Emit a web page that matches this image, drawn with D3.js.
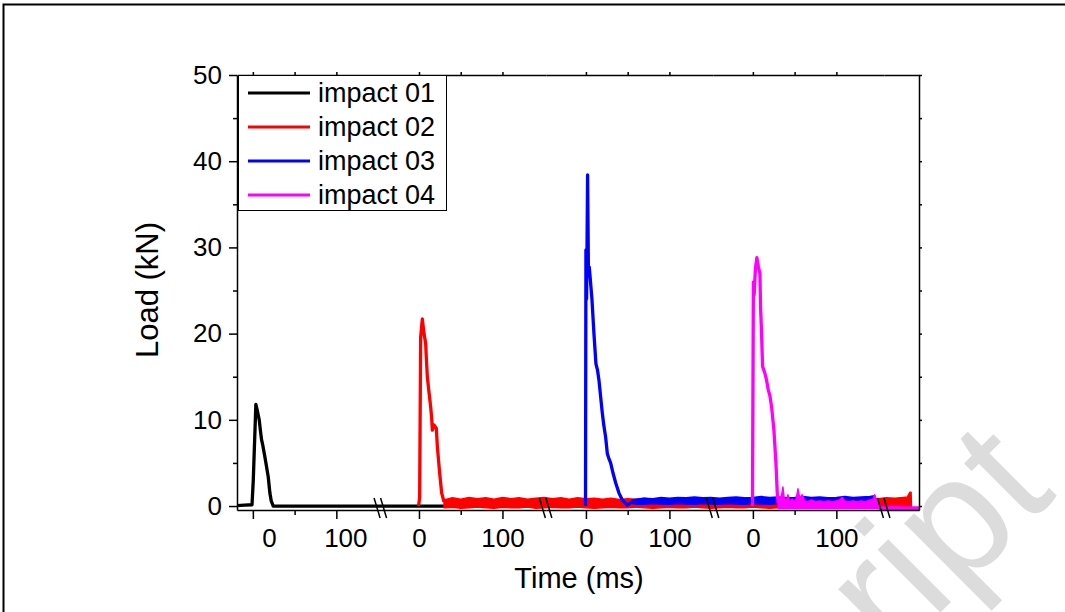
<!DOCTYPE html>
<html lang="en">
<head>
<meta charset="UTF-8">
<title>Impact load vs time</title>
<script src="https://d3js.org/d3.v7.min.js"></script>
<style>
    body { margin: 0; background: white; }
    svg text { font-family: 'Liberation Sans', Arial, sans-serif; fill: black; }
</style>
</head>
<body>
<div id="chart"></div>
<script>
// load axis (kN)
var loadTicks = [0, 10, 20, 30, 40, 50];
var loadMinorTicks = [5, 15, 25, 35, 45];

// broken time axis: one window per impact (ms, local to each impact), last piece is the tail
var segStart = [-19, -46, -48, -48, 157];
var segEnd   = [153, 152, 152, 157, 199];
var timeTicks = [0, 100];
var timeMinorTicks = [50];

var names  = ["impact 01", "impact 02", "impact 03", "impact 04"];
var colors = ["#000000", "#ff0000", "#0000ff", "#ff00ff"];

// impact 01 - pulse
var t01    = [-19, -10, -1, 0.5, 3.6, 5.5, 7.6, 9, 10.4, 12, 14.4, 16.5, 18.4, 20.4, 22, 24.4, 240];
var load01 = [0.05, 0.1, 0.15, 3, 11.8, 11, 10, 8.8, 7.7, 7, 5.7, 4.5, 3.4, 1.5, 0.6, 0, 0];

// impact 02 - pulse and noisy tail (low / high envelope)
var t02    = [-0.5, 0.8, 2, 4, 6, 8, 8.8, 10, 12, 14, 15.2, 16, 18, 20.8, 22, 24.8, 27.2, 30];
var load02 = [0, 1, 19.6, 21.7, 20, 18.9, 17.2, 15, 13.2, 11.5, 10.2, 8.8, 9.4, 9, 6.9, 3.8, 1.5, 0.5];
var tailT02  = [30, 40, 50, 60, 70, 80, 90, 100, 110, 120, 130, 140, 150, 160, 170, 180, 190, 200,
                210, 220, 230, 240, 250, 260, 270, 280, 290, 300, 310, 320, 330, 340, 350, 360, 370,
                380, 390, 400, 410, 420, 430, 440, 450, 460, 470, 480, 490, 500, 510, 520, 530, 540,
                550, 560, 570, 580, 585, 588, 589.5, 590];
var tailHi02 = [0.7, 0.95, 0.8, 1.0, 0.85, 0.95, 0.8, 1.0, 0.85, 0.95, 0.8, 0.9, 1.0, 0.85, 0.95, 0.8, 0.95, 0.85,
                0.9, 0.8, 0.9, 0.75, 0.85, 0.8, 0.9, 0.75, 0.85, 0.8, 0.85, 0.75, 0.8, 0.75, 0.7, 0.8, 0.75,
                0.7, 0.8, 0.75, 0.8, 0.7, 0.75, 0.8, 0.7, 0.75, 0.85, 0.8, 0.75, 0.8, 0.85, 0.8, 0.85, 0.9,
                0.85, 0.95, 0.9, 1.0, 1.05, 1.6, 1.6, 0];
var tailLo02 = [-0.2, -0.15, -0.25, -0.2, -0.1, -0.2, -0.25, -0.15, -0.2, -0.2, -0.1, -0.25, -0.2, -0.15, -0.2, -0.2, -0.1, -0.2,
                -0.25, -0.2, -0.15, -0.2, -0.2, -0.1, -0.2, -0.25, -0.2, -0.15, -0.2, -0.2, -0.1, -0.2, -0.25, -0.2, -0.15,
                -0.2, -0.2, -0.1, -0.2, -0.25, -0.2, -0.15, -0.2, -0.2, -0.1, -0.2, -0.25, -0.2, -0.15, -0.2, -0.2, -0.1,
                -0.2, -0.2, -0.15, -0.2, -0.2, -0.2, -0.2, -0.2];

// impact 03
var t03    = [-0.5, 0, 0.8, 2, 3, 4, 5.5, 7.2, 9.6, 12, 13.8, 15.6, 17.6, 19.6, 21.5, 23.6, 25.6, 27.5,
              29.6, 32.5, 35.6, 39.6, 43.6, 49.6, 55];
var load03 = [0, 29.7, 24, 38.4, 27, 27.7, 26, 24, 20, 16.5, 15.8, 14.6, 12.7, 10.8, 9.3, 8, 6.1, 5.5,
              5, 3.8, 2.7, 1.5, 0.7, 0.1, 0.5];
var tailT03  = [55, 60, 70, 80, 90, 100, 110, 120, 130, 140, 150, 160, 170, 180, 190, 200, 210, 220,
                230, 240, 250, 260, 270, 280, 290, 300, 310, 320, 330, 340, 346, 348];
var tailHi03 = [0.7, 0.8, 0.9, 0.85, 1.0, 0.9, 1.0, 0.95, 1.05, 0.95, 1.0, 0.9, 1.0, 1.05, 0.95, 1.0, 1.1, 1.0,
                1.05, 0.95, 1.0, 1.1, 1.0, 1.05, 0.95, 1.0, 1.1, 1.0, 1.05, 1.1, 1.2, 0.2];
var tailLo03 = [0.3, 0.25, 0.2, 0.3, 0.25, 0.2, 0.3, 0.25, 0.2, 0.3, 0.25, 0.2, 0.3, 0.25, 0.2, 0.3, 0.25, 0.2,
                0.3, 0.25, 0.2, 0.3, 0.25, 0.2, 0.3, 0.25, 0.2, 0.3, 0.25, 0.2, 0.2, 0];

// impact 04
var t04    = [-0.5, 0.6, 1.5, 3, 4.8, 6.5, 8.4, 9.2, 10.4, 11.6, 14.4, 16.4, 18.4, 20.4, 22.4, 25.2, 27.6, 29.2, 30.4];
var load04 = [0, 26, 24.5, 27.5, 28.8, 27.8, 27, 23.1, 20, 16.2, 15.4, 14.6, 13.5, 12.8, 11.5, 8.8, 5, 1.5, 0.3];
var tailT04  = [30.4, 33, 35, 36, 37.5, 40, 42, 44, 47, 50, 52, 54, 56, 59, 62, 66, 70, 75, 80, 85, 90,
                95, 100, 104, 107, 110, 115, 120, 125, 130, 135, 140, 144, 146, 148, 151, 153, 160, 170, 180, 190, 199];
var tailHi04 = [0.3, 0.9, 1.6, 2.2, 0.9, 0.6, 1.3, 0.5, 0.8, 0.5, 0.9, 2.0, 1.0, 1.3, 0.6, 0.5, 0.7, 0.5, 0.6, 0.5, 0.6,
                0.5, 0.6, 0.7, 1.0, 0.6, 0.5, 0.6, 0.5, 0.6, 0.5, 0.7, 0.8, 1.3, 0.7, 0.4, -0.1, -0.1, -0.05, -0.1, -0.1, -0.1];
var tailLo04 = [-0.3, -0.3, -0.3, -0.3, -0.3, -0.3, -0.3, -0.3, -0.3, -0.3, -0.3, -0.3, -0.3, -0.3, -0.3, -0.3, -0.3, -0.3, -0.3, -0.3, -0.3,
                -0.3, -0.3, -0.3, -0.3, -0.3, -0.3, -0.3, -0.3, -0.3, -0.3, -0.3, -0.3, -0.3, -0.3, -0.3, -0.45, -0.45, -0.45, -0.45, -0.45, -0.45];

var pulses = [[t01, load01], [t02, load02], [t03, load03], [t04, load04]];
var tails  = [null, [tailT02, tailLo02, tailHi02], [tailT03, tailLo03, tailHi03], [tailT04, tailLo04, tailHi04]];

//page size and plot box
var W = 1065, H = 612;
var plotLeft = 237, plotRight = 919, plotTop = 75, plotBottom = 510;

var svg = d3.select("#chart").append("svg")
    .attr("width", W)
    .attr("height", H);

// faint watermark behind everything
svg.append("text")
    .attr("transform", "translate(1058,495) rotate(-45)")
    .attr("text-anchor", "end")
    .style("font-size", "168px")
    .style("fill", "#dcdcdc")
    .text("Manuscript");

// outer page frame
svg.append("rect")
    .attr("x", 3.5).attr("y", 4.5)
    .attr("width", 1200).attr("height", 800)
    .attr("fill", "none")
    .attr("stroke", "black")
    .attr("stroke-width", 2);

var y = d3.scaleLinear().domain([-0.46, 50]).range([plotBottom, plotTop]);

// one linear scale per piece of the broken axis, same ms-per-pixel for all
var totalMs = d3.sum(segStart, function(d, i) { return segEnd[i] - d; });
var k = (plotRight - plotLeft) / totalMs;
var segScales = [];
var cur = plotLeft;
segStart.forEach(function(s, i) {
    var w = (segEnd[i] - s) * k;
    segScales.push(d3.scaleLinear().domain([s, segEnd[i]]).range([cur, cur + w]));
    cur += w;
});

//series
pulses.forEach(function(p, i) {
    var sc = segScales[i];
    var pts = p[0].map(function(t, j) { return [t, p[1][j]]; });
    svg.append("path")
        .datum(pts)
        .attr("fill", "none")
        .attr("stroke", colors[i])
        .attr("stroke-width", 3.3)
        .attr("stroke-linejoin", "round")
        .attr("d", d3.line().x(function(d) { return sc(d[0]); }).y(function(d) { return y(d[1]); }));
    var tl = tails[i];
    if (tl) {
        var band = tl[0].map(function(t, j) { return [t, tl[1][j], tl[2][j]]; });
        svg.append("path")
            .datum(band)
            .attr("fill", colors[i])
            .attr("stroke", colors[i])
            .attr("stroke-width", 1.5)
            .attr("stroke-linejoin", "round")
            .attr("d", d3.area()
                .x(function(d) { return sc(d[0]); })
                .y0(function(d) { return y(d[1]); })
                .y1(function(d) { return y(d[2]); }));
    }
});

// y axis left
svg.append("g")
    .attr("transform", "translate(" + plotLeft + ",0)")
    .call(d3.axisLeft(y).tickValues(loadTicks).tickSize(8).tickPadding(7).tickSizeOuter(0));
svg.append("g")
    .attr("transform", "translate(" + plotLeft + ",0)")
    .call(d3.axisLeft(y).tickValues(loadMinorTicks).tickSize(4).tickFormat(""))
    .select(".domain").remove();
// right side, tiny ticks
svg.append("g")
    .attr("transform", "translate(" + plotRight + ",0)")
    .call(d3.axisRight(y).tickValues(loadTicks.concat(loadMinorTicks)).tickSize(3).tickFormat("").tickSizeOuter(0));

// bottom and top axes per piece
segScales.forEach(function(sc, i) {
    var major = i < 4 ? timeTicks : [];
    var minor = i < 4 ? timeMinorTicks : [];
    var g = svg.append("g")
        .attr("transform", "translate(0," + plotBottom + ")")
        .call(d3.axisBottom(sc).tickValues(major).tickSize(9).tickPadding(10).tickSizeOuter(0));
    if (i === 0) {
        // labels of the first window sit a bit to the right in the original
        g.selectAll(".tick text").attr("dx", function(d) { return d === 0 ? 16 : 9; });
    }
    svg.append("g")
        .attr("transform", "translate(0," + plotBottom + ")")
        .call(d3.axisBottom(sc).tickValues(minor).tickSize(5).tickFormat(""))
        .select(".domain").remove();
    svg.append("g")
        .attr("transform", "translate(0," + plotTop + ")")
        .call(d3.axisTop(sc).tickValues(major.concat(minor)).tickSize(3).tickFormat("").tickSizeOuter(0));
});

svg.selectAll(".domain, .tick line").attr("stroke", "black").attr("stroke-width", 1.5);
svg.selectAll(".tick text").style("font-size", "26px").attr("fill", "black");

// break marks
for (var b = 0; b < 4; b++) {
    var xb = segScales[b](segEnd[b]);
    [-6.5, 0].forEach(function(o) {
        svg.append("line")
            .attr("x1", xb + o).attr("y1", plotBottom - 12)
            .attr("x2", xb + o + 6).attr("y2", plotBottom + 8)
            .attr("stroke", "black")
            .attr("stroke-width", 1.5);
    });
}

// legend
var lg = svg.append("g");
lg.append("rect")
    .attr("x", 238.5).attr("y", plotTop + 0.5)
    .attr("width", 208).attr("height", 135)
    .attr("fill", "white")
    .attr("stroke", "black")
    .attr("stroke-width", 1);
names.forEach(function(n, i) {
    var ly = 93 + i * 34;
    lg.append("line")
        .attr("x1", 248).attr("x2", 310)
        .attr("y1", ly).attr("y2", ly)
        .attr("stroke", colors[i])
        .attr("stroke-width", 3);
    lg.append("text")
        .attr("x", 318).attr("y", ly)
        .attr("dy", "0.35em")
        .style("font-size", "27px")
        .text(n);
});

// axis titles
svg.append("text")
    .attr("x", 579).attr("y", 588)
    .attr("text-anchor", "middle")
    .style("font-size", "29px")
    .text("Time (ms)");
svg.append("text")
    .attr("transform", "translate(158,290) rotate(-90)")
    .attr("text-anchor", "middle")
    .style("font-size", "31px")
    .text("Load (kN)");
</script>
</body>
</html>
